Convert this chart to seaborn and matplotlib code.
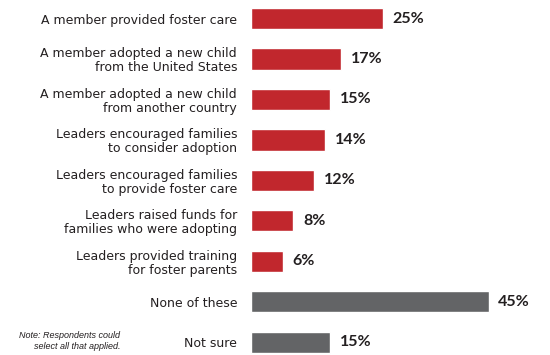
"""Horizontal bar chart: congregation involvement in foster care and adoption."""

import matplotlib

matplotlib.use("Agg")
import matplotlib.pyplot as plt
import pandas as pd
import seaborn as sns

CATEGORIES = [
    "A member provided foster care",
    "A member adopted a new child\nfrom the United States",
    "A member adopted a new child\nfrom another country",
    "Leaders encouraged families\nto consider adoption",
    "Leaders encouraged families\nto provide foster care",
    "Leaders raised funds for\nfamilies who were adopting",
    "Leaders provided training\nfor foster parents",
    "None of these",
    "Not sure",
]
VALUES = [25, 17, 15, 14, 12, 8, 6, 45, 15]
COLORS = ["#C1272D"] * 7 + ["#636466"] * 2

TEXT = "#231F20"

df = pd.DataFrame({"category": CATEGORIES, "value": VALUES})

sns.set_theme(style="white")
plt.rcParams["font.family"] = ["DejaVu Sans"]

fig = plt.figure(figsize=(5.5, 3.55), dpi=100)
ax = fig.add_axes([251 / 550, 0, 299 / 550, 1])

sns.barplot(
    data=df,
    x="value",
    y="category",
    hue="category",
    palette=COLORS,
    legend=False,
    width=0.52,
    saturation=1,
    ax=ax,
)

ax.set_xlim(0, 299 / 5.28)
ax.set_ylim(8.31, -0.457)
ax.set_xlabel("")
ax.set_ylabel("")
ax.set_xticks([])
sns.despine(ax=ax, left=True, bottom=True)
ax.tick_params(axis="y", length=0, pad=10, labelsize=9, labelcolor=TEXT)
for lbl in ax.get_yticklabels():
    lbl.set_linespacing(1.1)

for i, v in enumerate(VALUES):
    ax.annotate(
        f"{v}%",
        xy=(v, i),
        xytext=(7, 0),
        textcoords="offset points",
        ha="left",
        va="center",
        fontsize=11.5,
        fontweight="bold",
        color=TEXT,
        family=["Lato", "DejaVu Sans"],
    )

fig.text(
    120 / 550,
    1 - 341 / 355,
    "Note: Respondents could\nselect all that applied.",
    ha="right",
    va="center",
    fontsize=6.5,
    style="italic",
    color=TEXT,
    family=["Liberation Sans", "DejaVu Sans"],
)

fig.savefig("out.png", dpi=100)
